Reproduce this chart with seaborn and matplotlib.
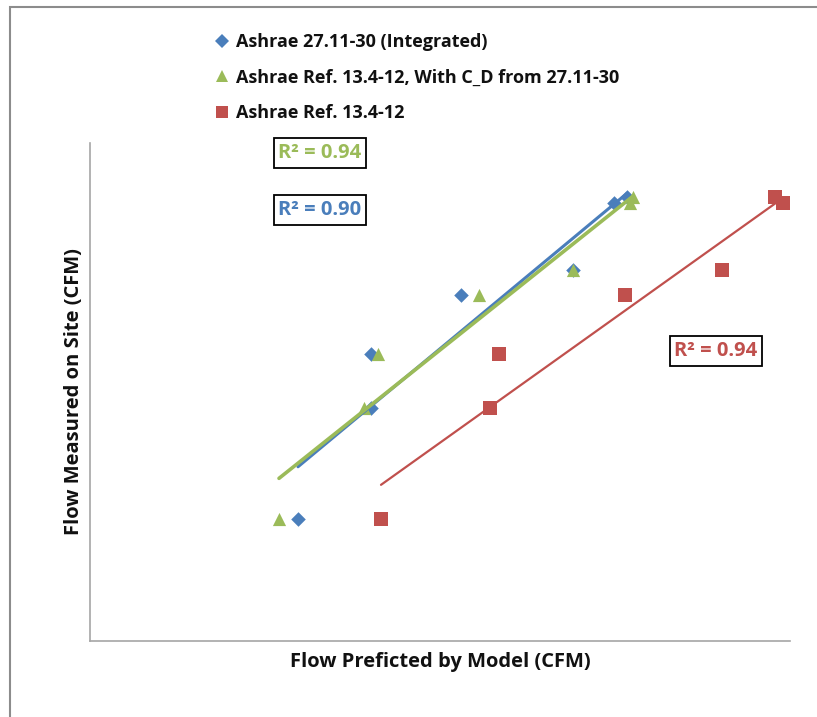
import matplotlib
matplotlib.use("Agg")
import matplotlib.pyplot as plt
import seaborn as sns
import pandas as pd
from matplotlib.patches import Rectangle
from matplotlib.lines import Line2D

sns.set_theme(style="white")
plt.rcParams['font.family'] = ['Open Sans', 'DejaVu Sans']

# ---- data (CFM) ----
measured = [610, 1165, 1435, 1730, 1855, 2190, 2220]
pred_integrated = [1040, 1405, 1405, 1855, 2415, 2620, 2685]
pred_cd = [945, 1370, 1440, 1945, 2415, 2700, 2715]
pred_ref = [1455, 2000, 2045, 2675, 3160, 3465, 3425]

series_names = ["Ashrae 27.11-30 (Integrated)",
                "Ashrae Ref. 13.4-12, With C_D from 27.11-30",
                "Ashrae Ref. 13.4-12"]
r2_labels = ["R² = 0.90", "R² = 0.94", "R² = 0.94"]

colors = ["#4A7EBB", "#9BBB59", "#C0504D"]
markers = ["D", "^", "s"]
msizes = [55, 90, 100]
lws = [2.2, 2.6, 1.6]

fig = plt.figure(figsize=(8.17, 7.17), dpi=100)
W, H = 817, 717
ax = fig.add_axes([90 / W, 1 - 641 / H, 700 / W, (641 - 143) / H])

preds = [pred_integrated, pred_cd, pred_ref]
handles = []
order = [2, 0, 1]
for i in order:
    df = pd.DataFrame({"x": preds[i], "y": measured})
    sns.regplot(data=df, x="x", y="y", ax=ax, ci=None, truncate=True,
                marker=markers[i],
                scatter_kws=dict(s=msizes[i], color=colors[i], linewidths=0,
                                 alpha=1, zorder=3),
                line_kws=dict(color=colors[i], lw=lws[i], zorder=4))
for i in range(3):
    handles.append(Line2D([], [], ls="none", marker=markers[i], color=colors[i],
                          markersize=[7, 9, 9][i], markeredgewidth=0))

ax.set_xlim(0, 3500)
ax.set_ylim(0, 2490)
ax.set_xticks([])
ax.set_yticks([])
for s in ["top", "right"]:
    ax.spines[s].set_visible(False)
for s in ["left", "bottom"]:
    ax.spines[s].set_color("#A6A6A6")
    ax.spines[s].set_linewidth(1.2)

ax.set_xlabel("Flow Preficted by Model (CFM)", fontsize=14.5, fontweight="bold",
              color="#111111", labelpad=8)
ax.set_ylabel("Flow Measured on Site (CFM)", fontsize=14.5, fontweight="bold",
              color="#111111", labelpad=4)

leg = ax.legend(handles, series_names, loc="upper left",
                bbox_to_anchor=(216 / W, 1 - 33 / H), bbox_transform=fig.transFigure,
                frameon=False, handlelength=0.7, handletextpad=0.42,
                labelspacing=0.98, borderaxespad=0, borderpad=0,
                prop=dict(size=13, weight="bold"))
for t in leg.get_texts():
    t.set_color("#111111")

# R^2 boxes (figure pixel positions)
boxes = [(320, 210, 0), (320, 153, 1), (716, 351, 2)]
for xp, yp, i in boxes:
    fig.text(xp / W, 1 - yp / H, r2_labels[i], color=colors[i], fontsize=14.5,
             fontweight="bold", ha="center", va="center",
             bbox=dict(boxstyle="square,pad=0.24", fc="white", ec="black", lw=1.3))

# outer chart border (left and top visible)
fig.add_artist(Rectangle((10 / W, -0.1), 1.2, 1 - 7 / H + 0.1,
                         transform=fig.transFigure, fill=False,
                         ec="#8C8C8C", lw=1.5))

fig.savefig("out.png", dpi=100)
